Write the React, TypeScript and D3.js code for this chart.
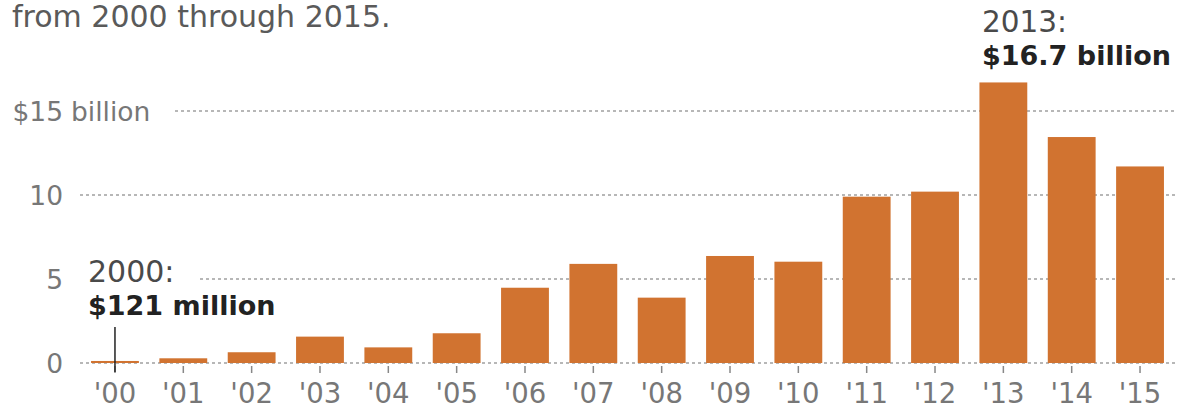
import React from "react";
import * as d3 from "d3";

const years = ["2000","2001","2002","2003","2004","2005","2006","2007","2008","2009","2010","2011","2012","2013","2014","2015"];
const tickLabels = ["'00","'01","'02","'03","'04","'05","'06","'07","'08","'09","'10","'11","'12","'13","'14","'15"];
const values = [0.121, 0.28, 0.64, 1.57, 0.93, 1.77, 4.48, 5.9, 3.89, 6.37, 6.03, 9.9, 10.2, 16.7, 13.45, 11.7];
const yTicks = [0, 5, 10, 15];
const yTickLabels = ["0", "5", "10", "$15"];
const subtitle = "from 2000 through 2015.";
const annoStartYear = "2000:";
const annoStartValue = "$121 million";
const annoPeakYear = "2013:";
const annoPeakValue = "$16.7 billion";

const W = 1186;
const H = 408;
const FONT = "'DejaVu Sans', sans-serif";

export default function App() {
  const x = d3.scaleBand<string>().domain(years).range([80.8, 1174.2]).paddingInner(0.3).paddingOuter(0.15);
  const y = d3.scaleLinear().domain([0, 15]).range([363, 111]);
  const bw = x.bandwidth();
  const cx = (yr: string) => (x(yr) as number) + bw / 2;

  const gridStart = (t: number) => (t === 15 ? 175 : t === 5 ? 200 : 80);

  return (
    <svg width={W} height={H} style={{ position: "absolute", left: 0, top: 0, background: "#fff" }}>
      <text x={12} y={27} fontFamily={FONT} fontSize={30} fill="#5a5a5a">{subtitle}</text>

      {yTicks.map((t) => (
        <line key={"g" + t} x1={gridStart(t)} x2={1176} y1={y(t)} y2={y(t)} stroke="#a0a0a0" strokeWidth={1.5} strokeDasharray="3 3" />
      ))}

      {yTicks.map((t, i) => (
        <text key={"yl" + t} x={63} y={y(t)} dy="0.36em" fontFamily={FONT} fontSize={26.5} fill="#777" textAnchor="end">{yTickLabels[i]}</text>
      ))}
      <text x={63 + 8} y={y(15)} dy="0.36em" fontFamily={FONT} fontSize={26.5} fill="#777">billion</text>

      {years.map((yr, i) => (
        <rect key={yr} x={x(yr)} y={y(values[i])} width={bw} height={y(0) - y(values[i])} fill="#D17330" />
      ))}

      {years.map((yr, i) => (
        <g key={"t" + yr}>
          <line x1={cx(yr)} x2={cx(yr)} y1={366} y2={373} stroke="#888" strokeWidth={1.5} />
          <text x={cx(yr)} y={403} fontFamily={FONT} fontSize={27.5} fill="#777" textAnchor="middle">{tickLabels[i]}</text>
        </g>
      ))}

      <line x1={cx("2000")} x2={cx("2000")} y1={327} y2={372} stroke="#222" strokeWidth={1.5} />
      <text x={88} y={282} fontFamily={FONT} fontSize={30} fill="#4a4a4a">{annoStartYear}</text>
      <text x={88} y={315} fontFamily={FONT} fontSize={27} fontWeight="bold" fill="#222">{annoStartValue}</text>

      <text x={982} y={32} fontFamily={FONT} fontSize={29.5} fill="#4a4a4a">{annoPeakYear}</text>
      <text x={982} y={65} fontFamily={FONT} fontSize={27} fontWeight="bold" fill="#222">{annoPeakValue}</text>
    </svg>
  );
}
